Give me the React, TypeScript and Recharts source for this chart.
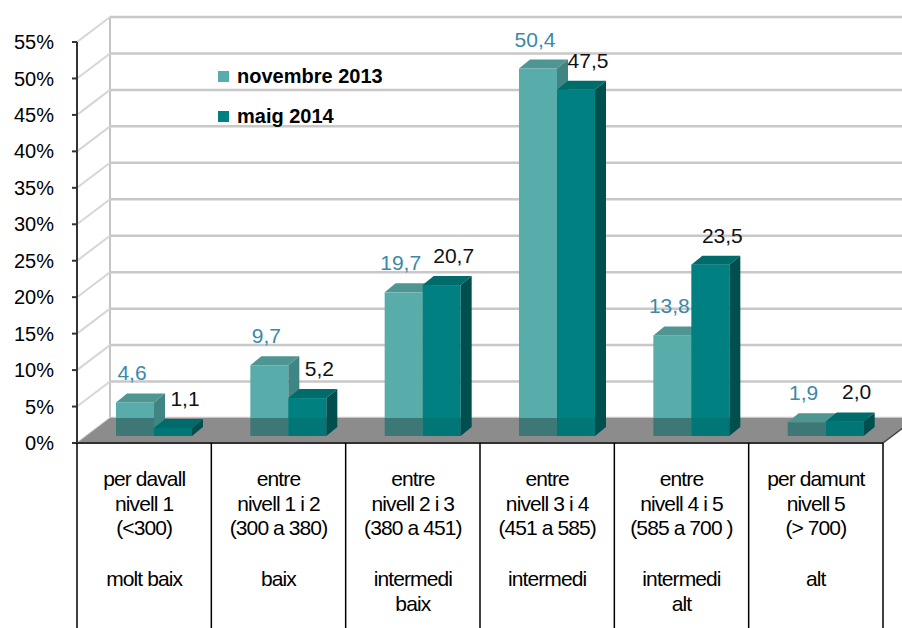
import React from "react";
import {
  BarChart,
  Bar,
  XAxis,
  YAxis,
  CartesianGrid,
  LabelList,
  Legend,
} from "recharts";

// data
const rangeLabels = [
  ["per davall", "nivell 1", "(<300)"],
  ["entre", "nivell 1 i 2", "(300 a 380)"],
  ["entre", "nivell 2 i 3", "(380 a 451)"],
  ["entre", "nivell 3 i 4", "(451 a 585)"],
  ["entre", "nivell 4 i 5", "(585 a 700 )"],
  ["per damunt", "nivell 5", "(> 700)"],
];
const levelLabels = [["molt baix"], ["baix"], ["intermedi", "baix"], ["intermedi"], ["intermedi", "alt"], ["alt"]];
const nov2013 = [4.6, 9.7, 19.7, 50.4, 13.8, 1.9];
const maig2014 = [1.1, 5.2, 20.7, 47.5, 23.5, 2.0];
const yTicks = [0, 5, 10, 15, 20, 25, 30, 35, 40, 45, 50, 55];
const seriesNames = ["novembre 2013", "maig 2014"];

const data = rangeLabels.map((r, i) => ({ cat: i, nov: nov2013[i], maig: maig2014[i] }));

// layout
const W = 902;
const H = 628;
const PLOT_LEFT = 77;
const PLOT_RIGHT = 883;
const PLOT_TOP = 42;
const PLOT_BOTTOM = 443;
const DX = 33; // wall depth
const DY = 25;
const BAR_DX = 10; // bars sit a bit into the depth
const BAR_DY = 7;
const BAR_DEPTH_X = 11;
const BAR_DEPTH_Y = 9;
const FONT = "'Liberation Sans', Arial, sans-serif";

const NOV = { front: "#58ACAA", top: "#4F9693", side: "#3F8583", shade: 0.3 };
const MAIG = { front: "#008080", top: "#006B6B", side: "#004F4F", shade: 0.08 };

const make3DBar = (c: typeof NOV) => (props: any) => {
  const { x, y, width, height } = props;
  if (x == null || y == null) return <g />;
  const fx = x + BAR_DX;
  const fy = y - BAR_DY;
  const h = Math.max(height, 0);
  const base = fy + h;
  const floorBack = PLOT_BOTTOM - DY;
  const shadeTop = Math.max(fy, floorBack);
  return (
    <g>
      <rect x={fx} y={fy} width={width} height={h} fill={c.front} />
      {base > shadeTop && (
        <rect x={fx} y={shadeTop} width={width} height={base - shadeTop} fill="#000" fillOpacity={c.shade} />
      )}
      <polygon
        points={`${fx},${fy} ${fx + BAR_DEPTH_X},${fy - BAR_DEPTH_Y} ${fx + width + BAR_DEPTH_X},${fy - BAR_DEPTH_Y} ${fx + width},${fy}`}
        fill={c.top}
      />
      <polygon
        points={`${fx + width},${fy} ${fx + width + BAR_DEPTH_X},${fy - BAR_DEPTH_Y} ${fx + width + BAR_DEPTH_X},${base - BAR_DEPTH_Y} ${fx + width},${base}`}
        fill={c.side}
      />
    </g>
  );
};

const makeLabel = (color: string, shift: number) => (props: any) => {
  const vb = props.viewBox || {};
  const x = props.x ?? vb.x;
  const y = props.y ?? vb.y;
  const width = props.width ?? vb.width;
  if (x == null || y == null) return null;
  return (
    <text
      x={x + width / 2 + BAR_DX + shift}
      y={y - BAR_DY - 22}
      textAnchor="middle"
      fontSize={21}
      fontFamily={FONT}
      fill={color}
    >
      {Number(props.value).toFixed(1).replace(".", ",")}
    </text>
  );
};

// back wall, side wall and floor drawn from the grid lines
const gridLine = (props: any) => {
  const { x1, x2, y1, index } = props;
  const by = y1 - DY;
  const isFloor = Math.abs(y1 - PLOT_BOTTOM) < 1;
  return (
    <g key={`g-${index}`}>
      {isFloor && (
        <line x1={x1 + DX} y1={PLOT_TOP - DY} x2={x1 + DX} y2={PLOT_BOTTOM - DY} stroke="#c4c4c4" strokeWidth={2} />
      )}
      <line x1={x1} y1={y1} x2={x1 + DX} y2={by} stroke="#d6d6d6" strokeWidth={2} />
      <line x1={x1 + DX} y1={by} x2={x2 + DX} y2={by} stroke="#c8c8c8" strokeWidth={2.5} />
      {isFloor && (
        <g>
          <polygon
            points={`${x1},${y1} ${x2},${y1} ${x2 + DX},${by} ${x1 + DX},${by}`}
            fill="#8c8c8c"
          />
          <line x1={x2} y1={y1} x2={x2 + DX} y2={by} stroke="#404040" strokeWidth={1.5} />
          <line x1={x1} y1={y1} x2={x2} y2={y1} stroke="#303030" strokeWidth={2} />
        </g>
      )}
    </g>
  );
};

const TableTick = (props: any) => {
  const { x, index } = props;
  const n = rangeLabels.length;
  const half = (PLOT_RIGHT - PLOT_LEFT) / n / 2;
  const left = x - half;
  const right = x + half;
  const r = rangeLabels[index] || [];
  const l = levelLabels[index] || [];
  return (
    <g>
      <line x1={left} y1={PLOT_BOTTOM} x2={left} y2={H} stroke="#000" strokeWidth={1.5} />
      {index === n - 1 && <line x1={right} y1={PLOT_BOTTOM} x2={right} y2={H} stroke="#000" strokeWidth={1.5} />}
      {r.map((t: string, i: number) => (
        <text key={`r${i}`} x={x} y={PLOT_BOTTOM + 43 + i * 24.5} textAnchor="middle" fontSize={21} fontFamily={FONT} fill="#000" letterSpacing={-0.9}>
          {t}
        </text>
      ))}
      {l.map((t: string, i: number) => (
        <text key={`l${i}`} x={x} y={PLOT_BOTTOM + 143 + i * 25} textAnchor="middle" fontSize={21} fontFamily={FONT} fill="#000" letterSpacing={-0.9}>
          {t}
        </text>
      ))}
    </g>
  );
};

const LegendBox = () => (
  <div style={{ fontFamily: FONT, fontWeight: "bold", fontSize: 20, color: "#000" }}>
    {seriesNames.map((s, i) => (
      <div key={s} style={{ display: "flex", alignItems: "center", height: 40 }}>
        <span
          style={{
            display: "inline-block",
            width: 11,
            height: 11,
            marginRight: 8,
            background: i === 0 ? NOV.front : MAIG.front,
          }}
        />
        {s}
      </div>
    ))}
  </div>
);

export default function App() {
  return (
    <div style={{ position: "absolute", left: 0, top: 0, width: W, height: H, background: "#fff" }}>
      <BarChart
        width={W}
        height={H}
        data={data}
        margin={{ top: PLOT_TOP, right: W - PLOT_RIGHT, bottom: 0, left: PLOT_LEFT - 60 }}
        barGap={0}
        barSize={38}
      >
        <CartesianGrid horizontal={gridLine} vertical={false} />
        <XAxis
          dataKey="cat"
          type="category"
          height={H - PLOT_BOTTOM}
          axisLine={false}
          tickLine={false}
          tick={<TableTick />}
          interval={0}
        />
        <YAxis
          width={60}
          domain={[0, 55]}
          ticks={yTicks}
          interval={0}
          tickFormatter={(v: number) => `${v}%`}
          axisLine={{ stroke: "#333", strokeWidth: 2 }}
          tickLine={{ stroke: "#333", strokeWidth: 2 }}
          tickSize={5}
          tickMargin={18}
          tick={{ fontSize: 20, fill: "#000", fontFamily: FONT }}
        />
        <Legend
          layout="vertical"
          align="center"
          verticalAlign="middle"
          wrapperStyle={{ left: 218, top: 56, width: 220 }}
          content={<LegendBox />}
        />
        <Bar dataKey="nov" name={seriesNames[0]} fill={NOV.front} shape={make3DBar(NOV)} isAnimationActive={false}>
          <LabelList dataKey="nov" content={makeLabel("#3A89A8", -3)} />
        </Bar>
        <Bar dataKey="maig" name={seriesNames[1]} fill={MAIG.front} shape={make3DBar(MAIG)} isAnimationActive={false}>
          <LabelList dataKey="maig" content={makeLabel("#111", 12)} />
        </Bar>
      </BarChart>
    </div>
  );
}
